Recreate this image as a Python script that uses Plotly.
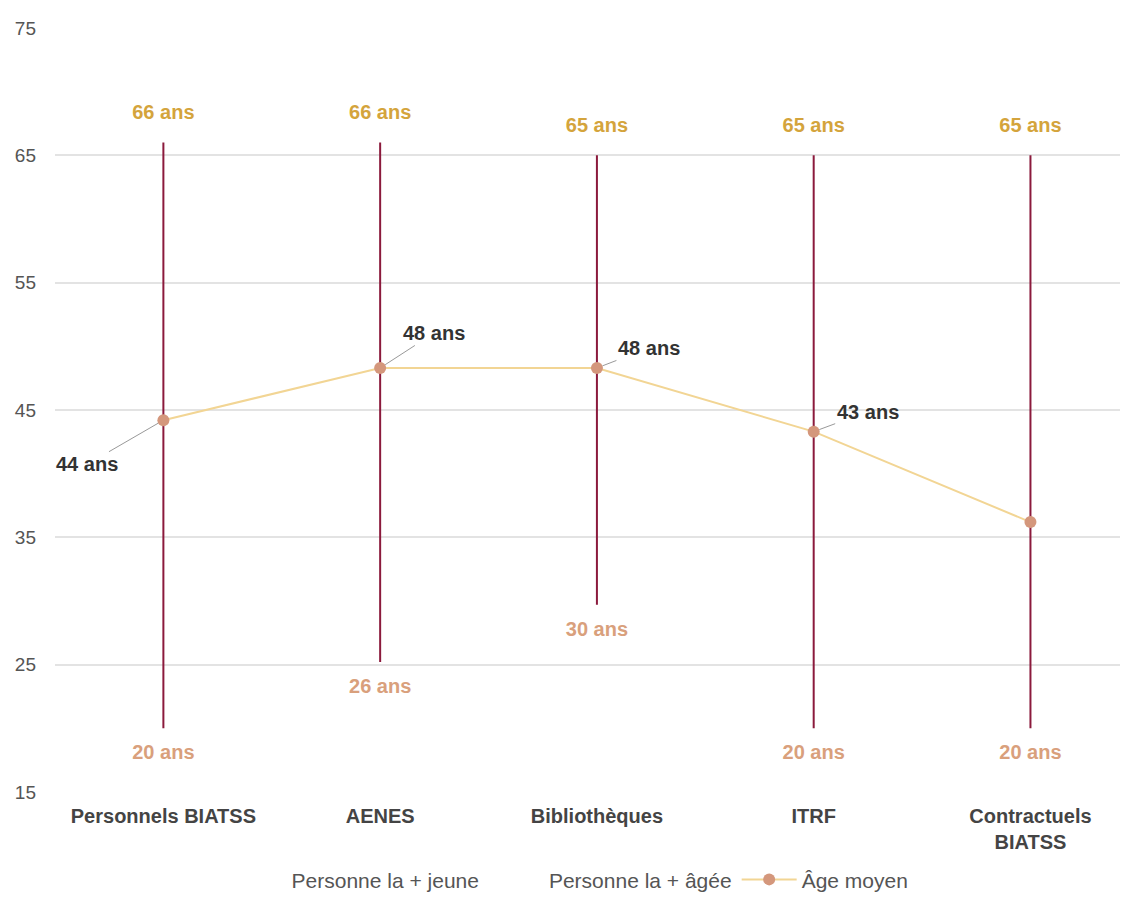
import plotly.graph_objects as go

categories = ["Personnels BIATSS", "AENES", "Bibliothèques", "ITRF", "Contractuels<br>BIATSS"]
age_min = [20, 25.2, 29.7, 20, 20]
age_min_labels = ["20 ans", "26 ans", "30 ans", "20 ans", "20 ans"]
age_max = [66, 66, 65, 65, 65]
age_max_labels = ["66 ans", "66 ans", "65 ans", "65 ans", "65 ans"]
age_avg = [44.2, 48.3, 48.3, 43.3, 36.2]
avg_labels = ["44 ans", "48 ans", "48 ans", "43 ans", ""]
y_ticks = [15, 25, 35, 45, 55, 65, 75]

# styling: pixel offsets of the average-age callouts
avg_offsets = [(-76, 44), (54, -35), (52, -20), (54, -20), None]

FONT = "Liberation Sans, Arial, sans-serif"
x = list(range(len(categories)))

fig = go.Figure()

# vertical range lines
lx, ly = [], []
for i in x:
    lx += [i, i, None]
    ly += [age_min[i], age_max[i], None]
fig.add_trace(go.Scatter(x=lx, y=ly, mode="lines", line=dict(color="#8b1a3c", width=2),
                         showlegend=False, hoverinfo="skip"))

# min labels
fig.add_trace(go.Scatter(x=x, y=age_min, mode="markers+text", name="Personne la + jeune",
                         text=age_min_labels, textposition="bottom center",
                         marker=dict(size=24, color="rgba(0,0,0,0)"),
                         textfont=dict(family=FONT, size=20, color="#d9a07c", weight="bold")))
# max labels
fig.add_trace(go.Scatter(x=x, y=age_max, mode="markers+text", name="Personne la + âgée",
                         text=age_max_labels, textposition="top center",
                         marker=dict(size=28, color="rgba(0,0,0,0)"),
                         textfont=dict(family=FONT, size=20, color="#d4a43c", weight="bold")))
# average line
fig.add_trace(go.Scatter(x=x, y=age_avg, mode="lines+markers", name="Âge moyen",
                         line=dict(color="#f2d594", width=2),
                         marker=dict(size=12, color="#d4977c")))

for i in x:
    if avg_offsets[i] is None or not avg_labels[i]:
        continue
    ax, ay = avg_offsets[i]
    fig.add_annotation(x=i, y=age_avg[i], xref="x", yref="y", text=avg_labels[i],
                       showarrow=True, arrowhead=0, arrowwidth=1, arrowcolor="#999999",
                       ax=ax, ay=ay, standoff=6,
                       font=dict(family=FONT, size=20, color="#333333", weight="bold"))

fig.update_layout(
    width=1120, height=893,
    margin=dict(l=47, r=0, t=20, b=109),
    paper_bgcolor="white", plot_bgcolor="white",
    font=dict(family=FONT, size=19, color="#555555"),
    showlegend=True,
    legend=dict(orientation="h", x=0.48, xanchor="center", y=-0.088, yanchor="top",
                font=dict(family=FONT, size=21, color="#555555"), itemwidth=55),
    xaxis=dict(tickmode="array", tickvals=x, ticktext=[f"<b>{c}</b>" for c in categories],
               range=[-0.5, 4.45], showgrid=False, zeroline=False, showline=False,
               tickfont=dict(family=FONT, size=20, color="#444444"), ticks="",
               ticklabelstandoff=10),
    yaxis=dict(range=[15, 75], tickvals=y_ticks, showgrid=True, gridcolor="#e3e3e3",
               gridwidth=2, zeroline=False, showline=False, ticks="", ticklabelstandoff=18,
               tickfont=dict(family=FONT, size=19, color="#555555")),
)

fig.write_html("out.html")
